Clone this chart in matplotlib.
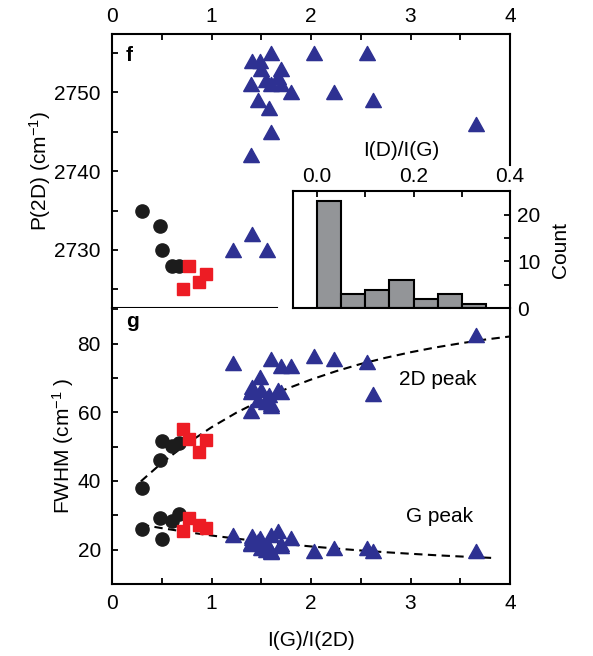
import numpy as np
import matplotlib
matplotlib.use("Agg")
import matplotlib.pyplot as plt
from matplotlib.ticker import MultipleLocator

plt.rcParams["font.family"] = ["Liberation Sans", "DejaVu Sans"]
plt.rcParams["mathtext.default"] = "regular"
plt.rcParams["font.size"] = 15

# Sample groups: x = I(G)/I(2D), P = 2D position, w2d / wg = FWHM of 2D and G peaks
circ_x = [0.30, 0.48, 0.50, 0.60, 0.67]
circ_p = [2735, 2733, 2730, 2728, 2728]
circ_w2d = [38.1, 46.2, 51.7, 50.1, 51.1]
circ_wg = [26.1, 29.2, 23.2, 28.2, 30.4]

sq_x = [0.71, 0.77, 0.94, 0.875]
sq_p = [2725, 2728, 2727, 2726]
sq_w2d = [55.2, 52.2, 52.0, 48.3]
sq_wg = [25.3, 29.2, 26.3, 27.3]

tri_x = [1.22, 1.41, 1.56, 1.40, 1.41, 1.49, 1.60, 1.50, 1.70, 1.55, 1.60, 1.67,
         1.70, 1.80, 1.47, 1.58, 1.60, 1.40, 2.03, 2.56, 2.23, 2.62, 3.66]
tri_p = [2730, 2732, 2730, 2751, 2754, 2754, 2755, 2753, 2753, 2751.5, 2751, 2752,
         2751, 2750, 2749, 2748, 2745, 2742, 2755, 2755, 2750, 2749, 2746]
tri_w2d = [74.4, 67.4, 64.2, 60.3, 66.5, 70.3, 75.5, 66.6, 73.6, 63.0, 61.7, 66.6,
           66.0, 73.6, 63.7, 65.0, 62.5, 66.0, 76.5, 74.6, 75.5, 65.4, 82.6]
tri_wg = [24.4, 23.9, 21.7, 21.7, 23.5, 23.4, 24.4, 20.5, 21.0, 20.0, 19.3, 25.5,
          21.5, 23.4, 22.5, 20.5, 19.5, 22.0, 19.5, 20.5, 20.5, 19.5, 19.5]

# Guide-to-the-eye curves through the FWHM data
fit2d_x = [0.29, 0.5, 0.75, 1.0, 1.25, 1.5, 1.75, 2.0, 2.25, 2.5, 2.75, 3.0, 3.25, 3.5, 3.75, 4.0]
fit2d_y = [39.9, 45.25, 50.8, 55.65, 59.9, 63.55, 66.8, 69.55, 71.97, 74.1, 75.9, 77.5, 78.9, 80.1, 81.2, 82.1]
fitg_x = [0.29, 0.5, 0.75, 1.0, 1.25, 1.5, 1.75, 2.0, 2.25, 2.5, 2.75, 3.0, 3.25, 3.5, 3.81]
fitg_y = [27.3, 26.26, 25.14, 24.12, 23.2, 22.37, 21.62, 20.93, 20.32, 19.76, 19.25, 18.8, 18.38, 18.01, 17.6]

# Histogram of I(D)/I(G)
bin_edges = [0.0, 0.05, 0.10, 0.15, 0.20, 0.25, 0.30, 0.35]
counts = [23, 3, 4, 6, 2, 3, 1]

black = "#1c1c1c"
red = "#ed1c24"
blue = "#2e3192"
gray = "#939598"

# slightly flattened triangle marker
tri_marker = [(-1, -0.9), (1, -0.9), (0, 0.9), (-1, -0.9)]

fig = plt.figure(figsize=(5.93, 6.56), dpi=100)
ax_f = fig.add_axes([0.1889, 0.530, 0.6712, 0.4182])
ax_g = fig.add_axes([0.1889, 0.1098, 0.6712, 0.4202])
ax_h = fig.add_axes([0.4941, 0.530, 0.366, 0.1785])

for ax in (ax_f, ax_g, ax_h):
    for s in ax.spines.values():
        s.set_linewidth(1.5)
    ax.tick_params(which="both", direction="in", width=1.3, length=4.5, pad=7)

def scatter_sets(ax, yc, ys, yt):
    ax.plot(circ_x, yc, "o", color=black, ms=9.5, mec=black, zorder=3)
    ax.plot(sq_x, ys, "s", color=red, ms=8.8, mec=red, zorder=3)
    ax.plot(tri_x, yt, marker=tri_marker, ls="none", color=blue, ms=11.3,
            mec=blue, zorder=3)

# panel f: 2D peak position
scatter_sets(ax_f, circ_p, sq_p, tri_p)
ax_f.set_xlim(0, 4)
ax_f.set_ylim(2722.6, 2757.4)
ax_f.xaxis.set_major_locator(MultipleLocator(1))
ax_f.xaxis.set_minor_locator(MultipleLocator(0.5))
ax_f.yaxis.set_major_locator(MultipleLocator(10))
ax_f.yaxis.set_minor_locator(MultipleLocator(5))
ax_f.xaxis.tick_top()
ax_f.tick_params(axis="x", which="both", top=True, bottom=False, pad=6)
ax_f.tick_params(axis="y", which="both", left=True, right=False, pad=8)
ax_f.spines["bottom"].set_bounds(0, 1.66)
ax_f.spines["right"].set_bounds(2740.8, 2757.4)
ax_f.set_ylabel(r"P(2D) (cm$^{-1}$)", labelpad=1)
ax_f.text(0.035, 0.955, "f", transform=ax_f.transAxes, fontweight="bold",
          fontsize=15, va="top", ha="left")

# panel g: FWHM of 2D and G peaks
scatter_sets(ax_g, circ_w2d, sq_w2d, tri_w2d)
scatter_sets(ax_g, circ_wg, sq_wg, tri_wg)
ax_g.plot(fit2d_x, fit2d_y, color="black", lw=1.5, ls=(0, (4, 2.6)), zorder=2)
ax_g.plot(fitg_x, fitg_y, color="black", lw=1.5, ls=(0, (4, 2.6)), zorder=2)
ax_g.set_xlim(0, 4)
ax_g.set_ylim(10, 90.3)
ax_g.xaxis.set_major_locator(MultipleLocator(1))
ax_g.xaxis.set_minor_locator(MultipleLocator(0.5))
ax_g.yaxis.set_major_locator(MultipleLocator(20))
ax_g.yaxis.set_minor_locator(MultipleLocator(10))
ax_g.spines["top"].set_visible(False)
ax_g.tick_params(axis="both", which="both", top=False, right=False)
ax_g.tick_params(axis="y", which="both", pad=8)
ax_g.set_ylabel(r"FWHM (cm$^{-1}$ )", labelpad=1)
ax_g.set_xlabel("I(G)/I(2D)", labelpad=13)
ax_g.text(3.27, 69.5, "2D peak", ha="center", va="center")
ax_g.text(3.29, 29.6, "G peak", ha="center", va="center")
ax_g.text(0.035, 0.985, "g", transform=ax_g.transAxes, fontweight="bold",
          fontsize=15, va="top", ha="left")

# inset histogram
ax_h.bar(bin_edges[:-1], counts, width=np.diff(bin_edges), align="edge",
         color=gray, edgecolor="black", linewidth=1.5, zorder=2)
ax_h.set_xlim(-0.05, 0.4)
ax_h.set_ylim(0, 25)
ax_h.xaxis.set_major_locator(MultipleLocator(0.2))
ax_h.xaxis.set_minor_locator(MultipleLocator(0.1))
ax_h.yaxis.set_major_locator(MultipleLocator(10))
ax_h.yaxis.set_minor_locator(MultipleLocator(5))
ax_h.xaxis.tick_top()
ax_h.xaxis.set_label_position("top")
ax_h.yaxis.tick_right()
ax_h.yaxis.set_label_position("right")
ax_h.tick_params(axis="x", which="both", top=True, bottom=False, pad=4)
ax_h.tick_params(axis="y", which="both", right=True, left=False, pad=5)
ax_h.xaxis.set_major_formatter(lambda v, p: f"{v:.1f}")
ax_h.set_xlabel("I(D)/I(G)", labelpad=8)
ax_h.set_ylabel("Count", labelpad=8)

fig.savefig("out.png", dpi=100)
